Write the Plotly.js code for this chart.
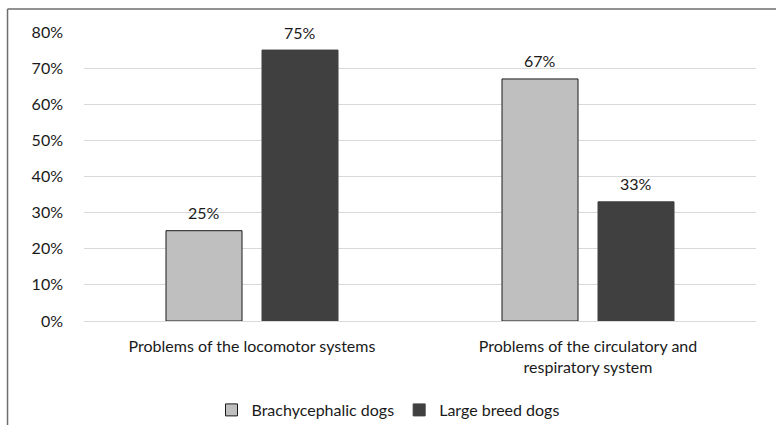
<!DOCTYPE html>
<html>
<head>
<meta charset="utf-8">
<script src="https://cdn.plot.ly/plotly-3.0.1.min.js"></script>
<style>
  html, body { margin: 0; padding: 0; background: #fff; }
  #chart { width: 776px; height: 425px; }
</style>
</head>
<body>
<div id="chart"></div>
<script>
// Share of health problems by dog group
const categories = [
  "Problems of the locomotor systems",
  "Problems of the circulatory and<br>respiratory system"
];
const seriesNames = ["Brachycephalic dogs", "Large breed dogs"];
const brachycephalic = [25, 67];
const largeBreed = [75, 33];
const yTickValues = [0, 10, 20, 30, 40, 50, 60, 70, 80];
const yTickLabels = ["0%", "10%", "20%", "30%", "40%", "50%", "60%", "70%", "80%"];

const FONT = "Lato, 'Open Sans', sans-serif";
const TEXT_COLOR = "#1a1a1a";
const SIZE = 16;

const traces = [
  {
    type: "bar",
    name: seriesNames[0],
    x: categories,
    y: brachycephalic,
    marker: { color: "#bfbfbf", line: { color: "#1a1a1a", width: 1 } },
    hoverinfo: "skip"
  },
  {
    type: "bar",
    name: seriesNames[1],
    x: categories,
    y: largeBreed,
    marker: { color: "#404040", line: { color: "#404040", width: 1 } },
    hoverinfo: "skip"
  }
];

// value labels above each bar (bars sit 48px either side of the category centre)
const valueLabels = [];
[brachycephalic, largeBreed].forEach((series, s) => {
  series.forEach((v, i) => {
    valueLabels.push({
      x: categories[i], y: v, xref: "x", yref: "y",
      text: v + "%", showarrow: false,
      xshift: s === 0 ? -48 : 48, yshift: 18,
      xanchor: "center", yanchor: "middle",
      font: { family: FONT, size: SIZE, color: TEXT_COLOR }
    });
  });
});

const layout = {
  width: 776,
  height: 425,
  margin: { l: 84, r: 20, t: 32, b: 104 },
  paper_bgcolor: "#ffffff",
  plot_bgcolor: "#ffffff",
  font: { family: FONT, size: SIZE, color: TEXT_COLOR },
  barmode: "group",
  bargap: 0.4286,
  bargroupgap: 0.2083,
  showlegend: true,
  legend: {
    orientation: "h",
    xref: "container", yref: "container",
    x: 0.5, xanchor: "center",
    y: 1 - 410 / 425, yanchor: "middle",
    font: { family: FONT, size: SIZE, color: TEXT_COLOR },
    itemwidth: 30,
    traceorder: "normal"
  },
  xaxis: {
    type: "category",
    automargin: false,
    showgrid: false,
    showline: false,
    zeroline: false,
    ticks: "",
    ticklabelstandoff: 14,
    tickfont: { family: FONT, size: SIZE, color: TEXT_COLOR },
    fixedrange: true
  },
  yaxis: {
    range: [0, 80],
    automargin: false,
    tickvals: yTickValues,
    ticktext: yTickLabels,
    showgrid: true,
    gridcolor: "#d9d9d9",
    gridwidth: 1,
    zeroline: true,
    zerolinecolor: "#d9d9d9",
    zerolinewidth: 1,
    showline: false,
    ticks: "",
    ticklabelstandoff: 20,
    tickfont: { family: FONT, size: SIZE, color: TEXT_COLOR },
    fixedrange: true
  },
  annotations: valueLabels,
  shapes: [
    // chart frame (left and top edges)
    { type: "line", xref: "paper", yref: "paper",
      x0: -0.1138, x1: -0.1138, y0: -0.5, y1: 1.0796,
      line: { color: "#6e6e6e", width: 1.5 } },
    { type: "line", xref: "paper", yref: "paper",
      x0: -0.1138, x1: 1.2, y0: 1.0796, y1: 1.0796,
      line: { color: "#6e6e6e", width: 1.5 } }
  ]
};

Plotly.newPlot("chart", traces, layout, { displayModeBar: false, staticPlot: true });
</script>
</body>
</html>
